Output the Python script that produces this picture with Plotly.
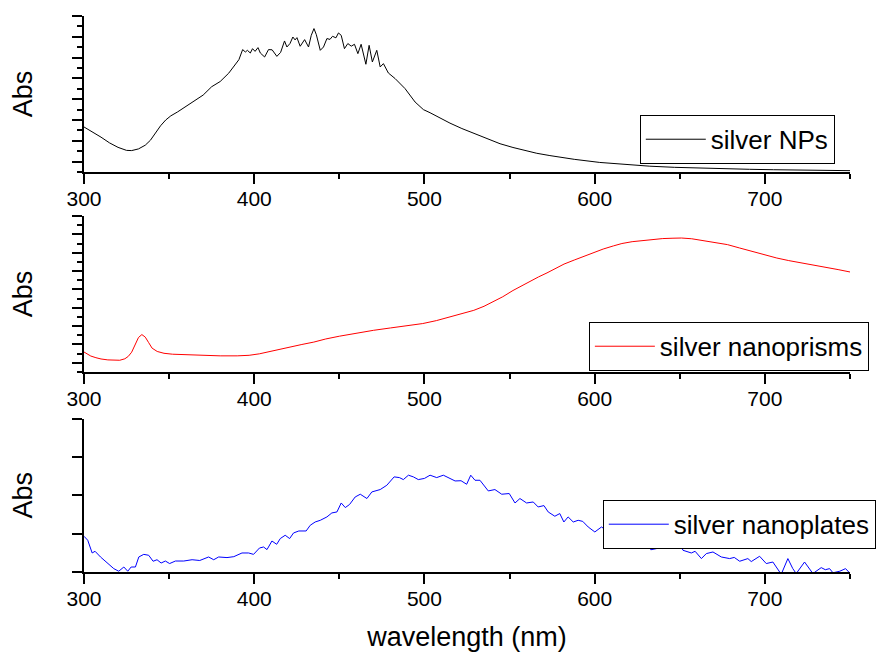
import plotly.graph_objects as go

# ---- spectra (wavelength in nm, absorbance) ----
wl_nps = [300, 305, 310, 315, 320, 325, 328, 332, 336, 339, 342, 345, 348, 351, 355,
          360, 365, 370, 375, 380, 385, 388, 391, 393.2, 394.8, 396, 397.7, 399, 400.5,
          402.2, 403.6, 406.1, 408.4, 410.5, 413.3, 415.5, 417.8, 419.2, 421, 422.7,
          424, 425.1, 427, 429.6, 431.9, 433.5, 435.1, 436.5, 438.8, 440.7, 442.7,
          444.5, 446, 448, 449.5, 451.1, 453, 455, 457, 458.9, 460.9, 462.8, 465.6,
          467.5, 469.4, 472, 474, 475.9, 478.8, 482.8, 488.6, 494.5, 499.4, 503.3, 509,
          515, 522, 529.7, 537, 544.4, 552, 559, 566, 573.7, 588, 603, 618, 632.4, 647,
          661.7, 676, 691, 705, 720, 735, 750]
abs_nps = [0.433, 0.385, 0.335, 0.280, 0.237, 0.208, 0.206, 0.222, 0.258, 0.305, 0.375,
           0.445, 0.500, 0.540, 0.578, 0.630, 0.680, 0.740, 0.820, 0.870, 0.950, 1.010,
           1.080, 1.177, 1.154, 1.170, 1.144, 1.186, 1.160, 1.196, 1.144, 1.106, 1.177,
           1.175, 1.112, 1.150, 1.260, 1.202, 1.235, 1.298, 1.270, 1.292, 1.209, 1.273,
           1.202, 1.314, 1.379, 1.320, 1.170, 1.202, 1.283, 1.275, 1.305, 1.290, 1.337,
           1.314, 1.186, 1.235, 1.210, 1.228, 1.138, 1.228, 1.036, 1.218, 1.058, 1.170,
           1.010, 1.042, 0.952, 0.898, 0.802, 0.673, 0.600, 0.570, 0.520, 0.470, 0.418,
           0.368, 0.318, 0.272, 0.236, 0.205, 0.180, 0.158, 0.122, 0.092, 0.071, 0.056,
           0.045, 0.037, 0.031, 0.026, 0.022, 0.018, 0.015, 0.013]

wl_prisms = [300, 302, 304, 307, 310, 314, 318, 321, 324, 326, 328, 330, 332, 334, 336,
             338, 340, 343, 347, 352, 360, 370, 380, 390, 397, 403, 409, 415, 420, 428,
             435, 442, 450, 460, 470, 480, 490, 499, 507, 514, 521, 529, 535, 540, 546,
             552, 557, 562, 567, 572, 577, 582, 588, 593, 599, 605, 611, 616, 622, 628,
             634, 640, 646, 651, 657, 663, 670, 678, 685, 692, 700, 707, 714, 721, 728,
             736, 743, 750]
abs_prisms = [0.109, 0.098, 0.087, 0.078, 0.071, 0.066, 0.063, 0.064, 0.072, 0.085,
              0.108, 0.150, 0.188, 0.204, 0.190, 0.160, 0.130, 0.112, 0.102, 0.097,
              0.094, 0.091, 0.088, 0.088, 0.091, 0.099, 0.112, 0.124, 0.135, 0.150,
              0.163, 0.180, 0.195, 0.213, 0.227, 0.240, 0.252, 0.264, 0.280, 0.298,
              0.316, 0.336, 0.358, 0.380, 0.410, 0.444, 0.470, 0.496, 0.518, 0.540,
              0.563, 0.588, 0.610, 0.628, 0.650, 0.670, 0.687, 0.700, 0.710, 0.717,
              0.723, 0.727, 0.729, 0.730, 0.726, 0.718, 0.707, 0.694, 0.676, 0.658,
              0.638, 0.621, 0.607, 0.596, 0.583, 0.571, 0.558, 0.545]

wl_plates = [300, 302.2, 304.8, 306.5, 309.7, 313.6, 317.5, 320.4, 323.4, 325.7, 327.7,
             330.2, 332.2, 335.1, 338, 340.6, 342.9, 345.3, 347.8, 350.3, 353.7, 358.6,
             363.5, 368, 373.2, 376.2, 379.1, 384, 388, 392.8, 396.7, 399.6, 403.1,
             405.5, 407.5, 410.4, 413.2, 415.3, 418.2, 420.8, 423.1, 426.2, 430.5, 432.9,
             435.8, 438.8, 442.7, 445.6, 448.6, 451.1, 453.5, 456, 459.3, 462.3, 466.2,
             469.1, 474, 477.9, 482.2, 485.3, 487.6, 490.6, 493.5, 496.4, 500, 503.3,
             507.2, 511.1, 515, 518, 521.5, 524.8, 527.2, 529.7, 532.6, 537.5, 541.4,
             545.4, 549.8, 553.2, 556.1, 560, 563.9, 566.8, 570.2, 572.7, 576.6, 579.5,
             581.9, 584.4, 587.4, 590.3, 593, 596.2, 600.1, 604, 610, 616, 622, 630.4,
             633, 636.3, 638.5, 641.4, 644.3, 647, 649.5, 651.9, 656.8, 659, 662.7,
             665.6, 669.5, 674.4, 679.3, 682, 685.2, 690, 692, 696.9, 700.8, 704.7,
             709.6, 713.5, 716.4, 718.4, 723.3, 726.2, 728.2, 733.1, 735.5, 738, 740,
             744, 747.4, 749.7]
abs_plates = [0.0466, 0.0414, 0.0248, 0.0270, 0.0196, 0.0117, 0.0044, 0.0010, 0.0065,
              0.0010, 0.0065, 0.0065, 0.0196, 0.0230, 0.0218, 0.0140, 0.0160, 0.0117,
              0.0143, 0.0110, 0.0143, 0.0143, 0.0160, 0.0150, 0.0196, 0.0160, 0.0196,
              0.0188, 0.0200, 0.0248, 0.0248, 0.0230, 0.0313, 0.0326, 0.0292, 0.0404,
              0.0361, 0.0436, 0.0479, 0.0436, 0.0509, 0.0535, 0.0535, 0.0609, 0.0652,
              0.0674, 0.0718, 0.0770, 0.0783, 0.0900, 0.0840, 0.0880, 0.0978, 0.1014,
              0.0958, 0.1044, 0.1075, 0.1131, 0.1240, 0.1231, 0.1205, 0.1262, 0.1240,
              0.1205, 0.1220, 0.1262, 0.1231, 0.1262, 0.1218, 0.1187, 0.1190, 0.1144,
              0.1262, 0.1196, 0.1196, 0.1057, 0.1075, 0.1014, 0.1023, 0.0900, 0.0958,
              0.0900, 0.0913, 0.0848, 0.0866, 0.0783, 0.0727, 0.0762, 0.0652, 0.0718,
              0.0652, 0.0674, 0.0660, 0.0587, 0.0522, 0.0587, 0.0500, 0.0460, 0.0420,
              0.0370, 0.0290, 0.0305, 0.0348, 0.0318, 0.0370, 0.0318, 0.0390, 0.0283,
              0.0248, 0.0270, 0.0175, 0.0240, 0.0261, 0.0196, 0.0175, 0.0190, 0.0140,
              0.0175, 0.0136, 0.0205, 0.0110, 0.0130, -0.0030, 0.0175, 0.0044, -0.0020,
              0.0130, 0.0030, -0.0020, 0.0057, 0.0030, 0.0044, -0.0010, 0.0010, 0.0044,
              -0.0010]

names = ["silver NPs", "silver nanoprisms", "silver nanoplates"]
colors = ["#000000", "#ff0000", "#0000ff"]
x_ticks = [300, 400, 500, 600, 700]

FONT = "Liberation Sans, Arial, sans-serif"

fig = go.Figure()
series = [(wl_nps, abs_nps), (wl_prisms, abs_prisms), (wl_plates, abs_plates)]
for i, ((wl, ab), name, col) in enumerate(zip(series, names, colors)):
    sfx = "" if i == 0 else str(i + 1)
    fig.add_trace(go.Scatter(
        x=wl, y=ab, mode="lines", name=name,
        line=dict(color=col, width=1),
        xaxis="x" + sfx, yaxis="y" + sfx,
        legend="legend" + sfx,
    ))

axis_common = dict(
    showline=True, linecolor="black", linewidth=1.5,
    showgrid=False, zeroline=False, mirror=False, automargin=False,
    ticks="outside", ticklen=10, tickwidth=1.5, tickcolor="black",
)

def x_axis(anchor, title=None):
    d = dict(axis_common, anchor=anchor, domain=[0, 1], range=[300, 750],
             tickmode="array", tickvals=x_ticks, ticktext=[str(v) for v in x_ticks],
             tickfont=dict(family=FONT, size=21, color="black"),
             ticklabelstandoff=-3,
             minor=dict(ticks="outside", dtick=50, tick0=300, ticklen=5,
                        tickwidth=1.5, tickcolor="black"))
    if title:
        d["title"] = dict(text=title, font=dict(family=FONT, size=27, color="black"),
                          standoff=18)
    return d

def y_axis(anchor, domain, yr, tick0, dtick, minor_dtick=None):
    d = dict(axis_common, anchor=anchor, domain=domain, range=yr,
             tickmode="linear", tick0=tick0, dtick=dtick, showticklabels=False,
             title=dict(text="Abs", font=dict(family=FONT, size=27, color="black"),
                        standoff=32))
    if minor_dtick:
        d["minor"] = dict(ticks="outside", dtick=minor_dtick, ticklen=5,
                          tickwidth=1.5, tickcolor="black")
    return d

def legend_box(x, y):
    return dict(x=x, y=y, xanchor="left", yanchor="middle",
                bgcolor="white", bordercolor="black", borderwidth=1,
                font=dict(family=FONT, size=26, color="black"),
                itemwidth=60)

fig.update_layout(
    width=885, height=657, autosize=False,
    margin=dict(l=83.5, r=34.5, t=15.7, b=85.3, pad=0, autoexpand=False),
    paper_bgcolor="white", plot_bgcolor="white",
    font=dict(family=FONT, color="black"),
    xaxis=x_axis("y"),
    yaxis=y_axis("x", [0.7194, 1.0], [0, 1.5], 0.1, 0.2, 0.1),
    xaxis2=x_axis("y2"),
    yaxis2=y_axis("x2", [0.3597, 0.6403], [0, 0.85], 0.05, 0.1, 0.05),
    xaxis3=x_axis("y3", "wavelength (nm)"),
    yaxis3=y_axis("x3", [0.0, 0.2759], [0, 0.2], 0, 0.05),
    legend=legend_box(0.7256, 0.7782),
    legend2=legend_box(0.6591, 0.4059),
    legend3=legend_box(0.6773, 0.0858),
    showlegend=True,
)

fig.write_html("out.html")
